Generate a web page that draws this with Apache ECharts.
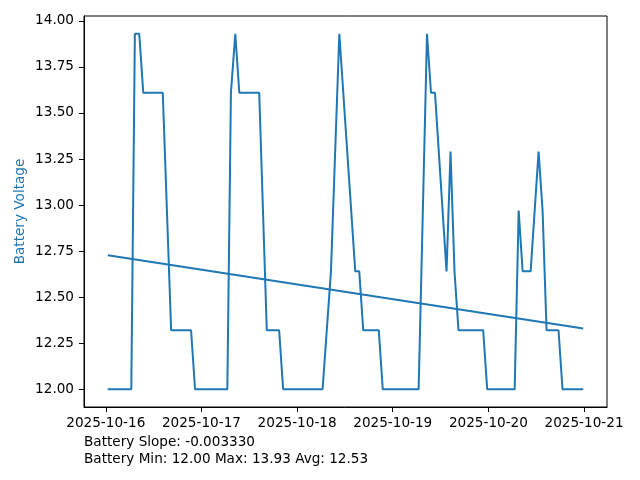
<!DOCTYPE html>
<html>
<head>
<meta charset="utf-8">
<script src="https://cdn.jsdelivr.net/npm/echarts@6/dist/echarts.min.js"></script>
<style>html,body{margin:0;padding:0;background:#fff}#c{width:640px;height:480px}</style>
</head>
<body>
<div id="c"></div>
<script>
const times = [
  '2025-10-16 00:30','2025-10-16 06:24','2025-10-16 07:18','2025-10-16 08:24','2025-10-16 09:24',
  '2025-10-16 14:18','2025-10-16 16:24','2025-10-16 21:24','2025-10-16 22:24',
  '2025-10-17 06:30','2025-10-17 07:24','2025-10-17 08:30','2025-10-17 09:30','2025-10-17 14:30',
  '2025-10-17 16:24','2025-10-17 19:30','2025-10-17 20:30',
  '2025-10-18 06:24','2025-10-18 08:30','2025-10-18 10:36','2025-10-18 14:36','2025-10-18 15:36',
  '2025-10-18 16:36','2025-10-18 20:30','2025-10-18 21:30',
  '2025-10-19 06:30','2025-10-19 08:36','2025-10-19 09:36','2025-10-19 10:36','2025-10-19 13:30',
  '2025-10-19 14:30','2025-10-19 15:30','2025-10-19 16:30','2025-10-19 22:42','2025-10-19 23:42',
  '2025-10-20 06:36','2025-10-20 07:36','2025-10-20 08:36','2025-10-20 10:36','2025-10-20 12:36',
  '2025-10-20 13:36','2025-10-20 14:36','2025-10-20 17:36','2025-10-20 18:36','2025-10-20 23:48'
];
const volts = [
  12.00, 12.00, 13.93, 13.93, 13.61,
  13.61, 12.32, 12.32, 12.00,
  12.00, 13.61, 13.93, 13.61, 13.61,
  12.32, 12.32, 12.00,
  12.00, 12.64, 13.93, 12.64, 12.64,
  12.32, 12.32, 12.00,
  12.00, 13.93, 13.61, 13.61, 12.64,
  13.29, 12.64, 12.32, 12.32, 12.00,
  12.00, 12.97, 12.64, 12.64, 13.29,
  12.97, 12.32, 12.32, 12.00, 12.00
];
const trendTimes = ['2025-10-16 00:30', '2025-10-20 23:48'];
const trendVals = [12.727, 12.330];
const yTicks = [12.00, 12.25, 12.50, 12.75, 13.00, 13.25, 13.50, 13.75, 14.00];
const yAxisName = 'Battery Voltage';
const statLines = ['Battery Slope: -0.003330', 'Battery Min: 12.00 Max: 13.93 Avg: 12.53'];

const FONT = 'DejaVu Sans';
const FS = 13.6;
const BLUE = '#1f77b4';
const DAY = 24 * 3600 * 1000;

const chart = echarts.init(document.getElementById('c'), null, {renderer: 'canvas'});
chart.setOption({
  animation: false,
  backgroundColor: '#fff',
  grid: {left: 84, right: 33, top: 16, bottom: 73, show: true, borderColor: '#000', borderWidth: 1, containLabel: false},
  xAxis: {
    type: 'time',
    min: v => v.min - 0.05 * (v.max - v.min),
    max: v => v.max + 0.05 * (v.max - v.min),
    minInterval: DAY,
    maxInterval: DAY,
    splitLine: {show: false},
    axisLine: {show: true, lineStyle: {color: '#000', width: 1}},
    axisTick: {show: true, length: 5, lineStyle: {color: '#000', width: 1}},
    axisLabel: {
      color: '#000', fontFamily: FONT, fontSize: FS, margin: 9,
      hideOverlap: false,
      formatter: val => echarts.time.format(val, '{yyyy}-{MM}-{dd}', false)
    }
  },
  yAxis: {
    type: 'value',
    min: v => v.min - 0.05 * (v.max - v.min),
    max: v => v.max + 0.05 * (v.max - v.min),
    name: yAxisName,
    nameLocation: 'middle',
    nameGap: 57,
    nameMoveOverlap: false,
    nameTextStyle: {color: BLUE, fontFamily: FONT, fontSize: FS},
    splitLine: {show: false},
    axisLine: {show: true, lineStyle: {color: '#000', width: 1}},
    axisTick: {show: true, length: 5, customValues: yTicks, lineStyle: {color: '#000', width: 1}},
    axisLabel: {
      color: '#000', fontFamily: FONT, fontSize: FS, margin: 10,
      customValues: yTicks,
      formatter: v => v.toFixed(2)
    }
  },
  series: [
    {
      type: 'line',
      data: times.map((t, i) => [t, volts[i]]),
      showSymbol: false,
      lineStyle: {color: BLUE, width: 2},
      itemStyle: {color: BLUE}
    },
    {
      type: 'line',
      data: trendTimes.map((t, i) => [t, trendVals[i]]),
      showSymbol: false,
      lineStyle: {color: BLUE, width: 2},
      itemStyle: {color: BLUE}
    }
  ],
  graphic: statLines.map((s, i) => ({
    type: 'text',
    left: 84,
    top: 435 + i * 17,
    style: {text: s, fill: '#000', font: FS + 'px "' + FONT + '"'}
  }))
});
</script>
</body>
</html>
